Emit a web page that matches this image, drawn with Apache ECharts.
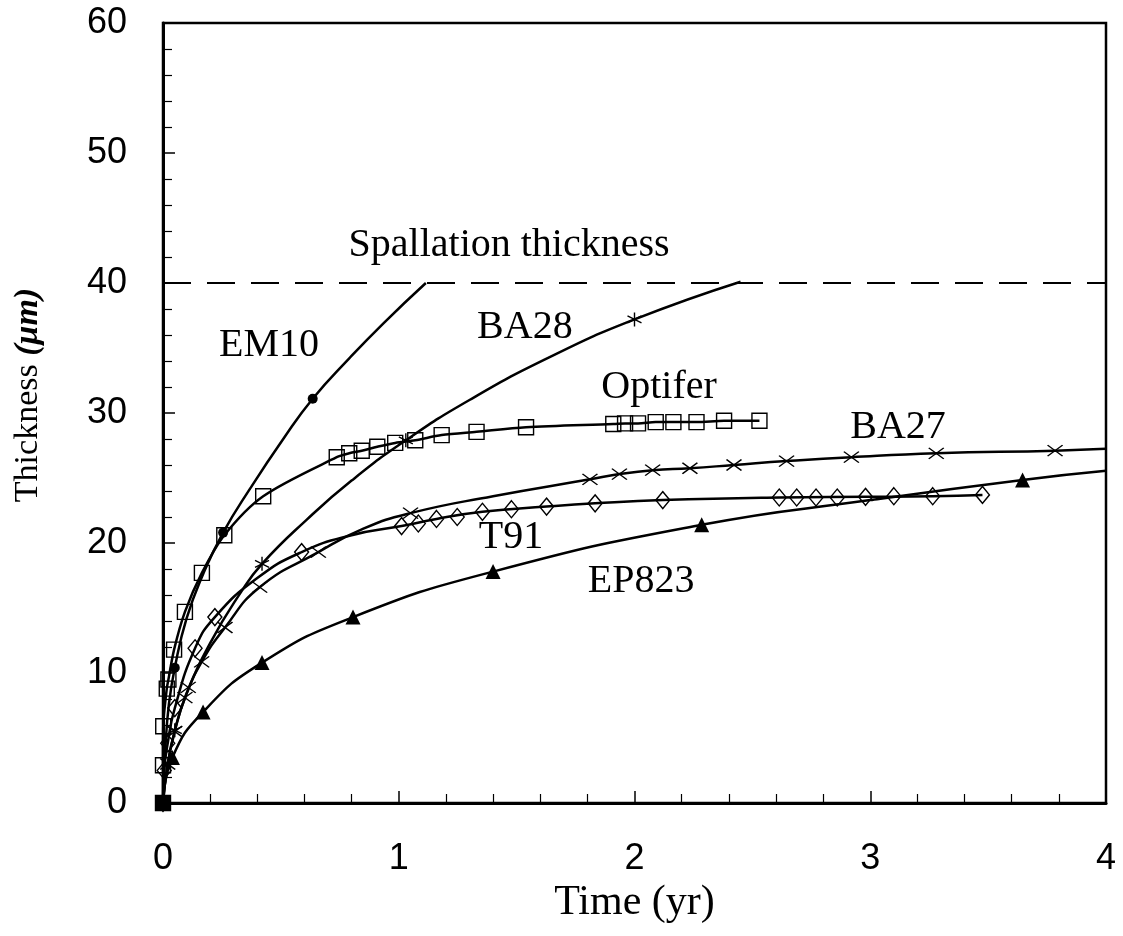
<!DOCTYPE html>
<html><head><meta charset="utf-8">
<script src="https://cdn.jsdelivr.net/npm/echarts@6.0.0/dist/echarts.min.js"></script>
<style>html,body{margin:0;padding:0;background:#fff}#c{width:1123px;height:936px}</style>
</head><body><div id="c"></div>
<script>
// ---- data (time in yr, thickness in µm) ----
const em10Curve = [[0,0],[0.01,4.2],[0.025,7.6],[0.05,10.4],[0.1,14.2],[0.17,17.6],[0.255,20.8],[0.37,24.2],[0.51,28.0],[0.635,31.1],[0.79,34.2],[0.935,36.9],[1.115,40.0]];
const em10Pts = [[0,0],[0.05,10.4],[0.255,20.8],[0.635,31.1]];

const ba28Curve = [[0,0],[0.02,3.0],[0.05,5.6],[0.1,8.4],[0.2,12.3],[0.33,16.2],[0.42,18.4],[0.61,21.8],[0.8,24.8],[1.03,27.9],[1.3,31.0],[1.64,34.3],[2.0,37.2],[2.45,40.1]];
const ba28Pts = [[0,0],[0.05,5.6],[0.42,18.4],[1.03,27.9],[2.0,37.2]];

const optiferPts = [[0,0],[0,2.9],[0.001,5.9],[0.016,8.8],[0.023,9.5],[0.047,11.8],[0.093,14.7],[0.165,17.7],[0.26,20.6],[0.425,23.6],[0.737,26.6],[0.79,26.9],[0.843,27.1],[0.909,27.4],[0.985,27.7],[1.07,27.9],[1.182,28.3],[1.33,28.55],[1.54,28.9],[1.91,29.15],[1.96,29.2],[2.015,29.2],[2.09,29.3],[2.165,29.3],[2.263,29.3],[2.38,29.4],[2.53,29.4]];

const ba27Curve = [[0,0],[0.02,3.0],[0.05,5.5],[0.093,8.1],[0.164,10.85],[0.263,13.5],[0.41,16.6],[0.659,19.3],[0.85,21.1],[1.05,22.3],[1.4,23.6],[1.811,24.9],[1.936,25.3],[2.077,25.6],[2.235,25.75],[2.422,26.0],[2.645,26.3],[2.92,26.6],[3.28,26.9],[3.784,27.1],[4.0,27.25]];
const ba27Pts = [[0,0],[0.02,3.0],[0.05,5.5],[0.093,8.1],[0.107,8.9],[0.164,10.85],[0.263,13.5],[0.41,16.6],[0.659,19.3],[1.05,22.3],[1.811,24.9],[1.936,25.3],[2.077,25.6],[2.235,25.75],[2.422,26.0],[2.645,26.3],[2.92,26.6],[3.28,26.9],[3.784,27.1]];

const t91Curve = [[0,0],[0.005,2.5],[0.02,4.6],[0.05,7.3],[0.136,11.9],[0.22,14.3],[0.4,17.3],[0.588,19.3],[0.8,20.6],[1.012,21.3],[1.16,21.85],[1.355,22.4],[1.627,22.8],[1.833,23.05],[2.12,23.3],[2.614,23.5],[2.98,23.55],[3.265,23.6],[3.476,23.7]];
const t91Pts = [[0,0],[0.005,2.5],[0.02,4.6],[0.05,7.3],[0.136,11.9],[0.22,14.3],[0.588,19.3],[1.012,21.3],[1.083,21.5],[1.16,21.85],[1.248,22.0],[1.355,22.4],[1.478,22.6],[1.627,22.8],[1.833,23.05],[2.12,23.3],[2.614,23.5],[2.688,23.5],[2.77,23.5],[2.86,23.5],[2.98,23.55],[3.10,23.6],[3.265,23.6],[3.476,23.7]];

const ep823Curve = [[0,0],[0.04,3.5],[0.17,7.0],[0.42,10.8],[0.806,14.3],[1.4,17.8],[2.285,21.4],[3.0,23.3],[3.646,24.85],[4.0,25.55]];
const ep823Pts = [[0,0],[0.04,3.5],[0.17,7.0],[0.42,10.8],[0.806,14.3],[1.4,17.8],[2.285,21.4],[3.646,24.85]];

const spallation = [[0,40],[4,40]];

const annotations = [
  {name:'Spallation thickness', value:[1.468,42.9]},
  {name:'EM10', value:[0.45,35.2]},
  {name:'BA28', value:[1.535,36.6]},
  {name:'Optifer', value:[2.104,32.0]},
  {name:'BA27', value:[3.118,28.9]},
  {name:'T91', value:[1.476,20.4]},
  {name:'EP823', value:[2.028,17.05]}
];

const xRange = [0,4,1];
const yRange = [0,60,10];

// ---- chart ----
const serif = '"Liberation Serif","DejaVu Serif",serif';
const sans = '"Liberation Sans",Arial,sans-serif';
const black = '#000';

function curve(data, s){
  return {type:'line', data, symbol:'none', smooth: s === undefined ? 0.5 : s,
    lineStyle:{color:black, width:2.5}, silent:true, z:2};
}
function marks(data, symbol, size, filled){
  return {type:'scatter', data, symbol, symbolSize:size, silent:true, z:3,
    itemStyle:{color: filled ? black : 'rgba(0,0,0,0)', borderColor:black, borderWidth: filled?0:1.4, opacity:1}};
}
const crossPath = 'path://M0,0L14,10M14,0L0,10';
const starPath = 'path://M5,0L5,10M0.7,2.5L9.3,7.5M9.3,2.5L0.7,7.5';

const chart = echarts.init(document.getElementById('c'), null, {renderer:'canvas'});
chart.setOption({
  animation:false,
  backgroundColor:'#fff',
  grid:{left:163, right:17, top:23, bottom:133, show:true, borderColor:black, borderWidth:2.5, containLabel:false, outerBoundsMode:'none'},
  xAxis:{type:'value', min:xRange[0], max:xRange[1], interval:xRange[2],
    name:'Time (yr)', nameLocation:'middle', nameGap:78,
    nameTextStyle:{fontFamily:serif, fontSize:42, color:black},
    axisLine:{show:true, onZero:false, lineStyle:{color:black, width:3}},
    axisTick:{show:true, inside:true, length:12, lineStyle:{color:black, width:1.5}},
    minorTick:{show:true, splitNumber:5, length:9, lineStyle:{color:black, width:1.2}},
    axisLabel:{fontFamily:sans, fontSize:36, color:black, margin:38},
    splitLine:{show:false}},
  yAxis:{type:'value', min:yRange[0], max:yRange[1], interval:yRange[2],
    name:'Thickness {b|(\u03bcm)}', nameLocation:'middle', nameGap:118, nameRotate:90,
    nameTextStyle:{fontFamily:serif, fontSize:34, color:black, padding:[0,0,0,36],
      rich:{b:{fontFamily:serif, fontSize:34, fontStyle:'italic', fontWeight:'bold', color:black}}},
    axisLine:{show:true, onZero:false, lineStyle:{color:black, width:3}},
    axisTick:{show:true, inside:true, length:12, lineStyle:{color:black, width:1.5}},
    minorTick:{show:true, splitNumber:5, length:9, lineStyle:{color:black, width:1.2}},
    axisLabel:{fontFamily:sans, fontSize:36, color:black, margin:36},
    splitLine:{show:false}},
  series:[
    {type:'line', data:spallation, symbol:'none', silent:true, z:1,
      lineStyle:{color:black, width:2.2, type:[28,16]}},
    curve(em10Curve), marks(em10Pts,'circle',10,true),
    curve(ba28Curve), marks(ba28Pts,starPath,14,false),
    curve(optiferPts, 0.3),
    marks(optiferPts,'rect',15,false),
    curve(ba27Curve), marks(ba27Pts,crossPath,[15,11],false),
    curve(t91Curve), marks(t91Pts,'diamond',[14,17],false),
    curve(ep823Curve), marks(ep823Pts,'triangle',15,true),
    marks([[0,0]],'rect',16,true),
    {type:'scatter', data:annotations, symbolSize:0, silent:true, z:5,
      itemStyle:{opacity:1},
      label:{show:true, position:'inside', formatter:'{b}', fontFamily:serif, fontSize:40, color:black, opacity:1}}
  ]
});
</script>
</body></html>
